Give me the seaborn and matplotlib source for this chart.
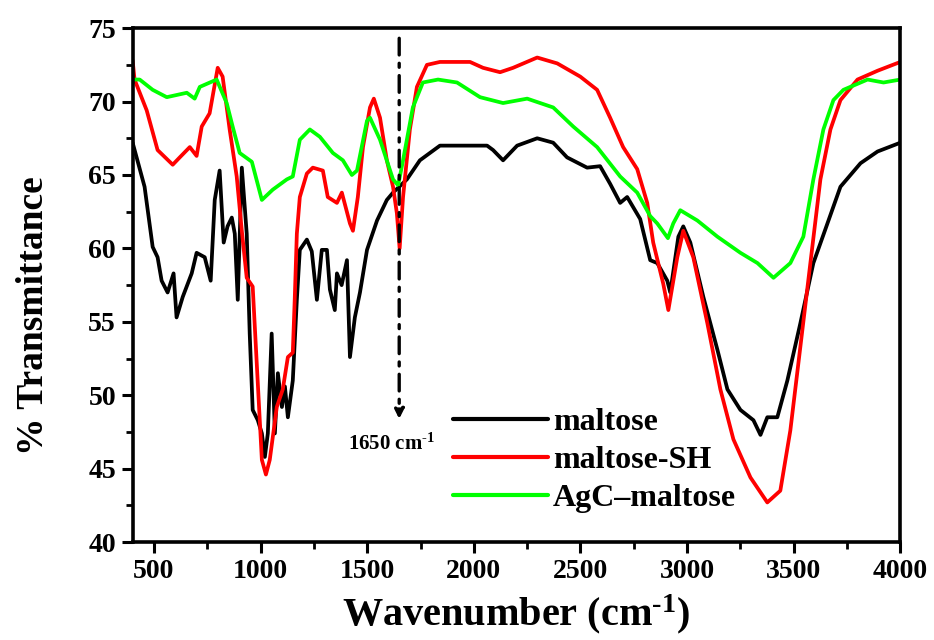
import numpy as np
import pandas as pd
import matplotlib
matplotlib.use("Agg")
import matplotlib.pyplot as plt
import seaborn as sns
from matplotlib.ticker import MultipleLocator

# ---- data ----
maltose_x = [400, 456, 494, 517, 536, 564, 592, 606, 635, 677, 700, 738, 766, 785, 808, 827, 845,
             865, 879, 893, 912, 935, 949, 963, 987, 1006, 1020, 1034, 1052, 1067, 1081, 1100, 1114,
             1128, 1151, 1170, 1184, 1217, 1240, 1264, 1287, 1311, 1325, 1348, 1358, 1380, 1405, 1419,
             1442, 1466, 1499, 1546, 1592, 1621, 1686, 1747, 1841, 2062, 2090, 2137, 2203, 2297, 2372,
             2437, 2531, 2592, 2639, 2686, 2719, 2780, 2827, 2860, 2907, 2921, 2959, 2982, 3015, 3076,
             3142, 3189, 3250, 3311, 3344, 3376, 3423, 3470, 3531, 3592, 3658, 3719, 3813, 3893, 4000]
maltose_y = [67.2, 64.2, 60.1, 59.4, 57.8, 57.0, 58.3, 55.3, 56.7, 58.3, 59.7, 59.4, 57.8, 63.3,
             65.3, 60.4, 61.5, 62.1, 61.0, 56.5, 65.5, 61.0, 54.2, 49.0, 48.3, 47.4, 45.8, 47.4, 54.2,
             47.4, 51.5, 49.2, 50.6, 48.5, 51.0, 56.5, 59.9, 60.6, 59.8, 56.5, 59.9, 59.9, 57.2, 55.8,
             58.3, 57.5, 59.2, 52.6, 55.3, 57.0, 59.9, 61.9, 63.3, 63.8, 64.7, 66.0, 67.0, 67.0, 66.7,
             66.0, 67.0, 67.5, 67.2, 66.2, 65.5, 65.6, 64.4, 63.1, 63.5, 62.0, 59.2, 59.0, 57.8, 57.0,
             60.8, 61.5, 60.4, 56.7, 53.1, 50.4, 49.0, 48.3, 47.3, 48.5, 48.5, 51.0, 54.9, 59.0, 61.7,
             64.2, 65.8, 66.6, 67.2]

sh_x = [400, 409, 466, 517, 588, 621, 668, 700, 724, 761, 799, 822, 855, 888, 912, 935, 963, 987,
        1006, 1025, 1043, 1076, 1104, 1128, 1151, 1160, 1170, 1184, 1217, 1245, 1292, 1315, 1358,
        1381, 1419, 1433, 1456, 1480, 1513, 1531, 1560, 1592, 1621, 1639, 1652, 1668, 1700, 1733,
        1780, 1841, 1982, 2043, 2123, 2184, 2297, 2391, 2499, 2578, 2639, 2700, 2766, 2813, 2841,
        2888, 2912, 2954, 2982, 3029, 3095, 3156, 3217, 3297, 3376, 3437, 3484, 3531, 3578, 3625,
        3672, 3719, 3799, 3893, 4000]
sh_y = [72.8, 71.5, 69.4, 66.7, 65.7, 66.2, 66.9, 66.3, 68.3, 69.2, 72.3, 71.7, 68.1, 64.9, 61.2,
        58.0, 57.4, 50.8, 45.6, 44.6, 45.6, 49.2, 50.4, 52.6, 52.9, 56.5, 61.0, 63.5, 65.1, 65.5,
        65.3, 63.5, 63.1, 63.8, 61.7, 61.2, 63.5, 66.9, 69.6, 70.2, 68.9, 66.0, 64.2, 62.4, 60.0,
        63.5, 68.1, 71.0, 72.5, 72.7, 72.7, 72.3, 72.0, 72.3, 73.0, 72.6, 71.7, 70.8, 68.9, 66.9,
        65.4, 63.1, 60.4, 57.6, 55.8, 59.4, 61.2, 59.4, 54.9, 50.4, 47.0, 44.4, 42.7, 43.5, 47.6,
        53.3, 59.0, 64.7, 68.1, 70.1, 71.5, 72.1, 72.7]

agc_x = [400, 433, 494, 560, 654, 691, 715, 794, 841, 869, 902, 959, 1006, 1057, 1123, 1151, 1184,
         1231, 1278, 1339, 1386, 1428, 1452, 1499, 1513, 1560, 1621, 1645, 1668, 1714, 1761, 1832,
         1921, 2029, 2137, 2250, 2372, 2466, 2578, 2686, 2766, 2827, 2860, 2910, 2935, 2968, 3048,
         3142, 3250, 3330, 3405, 3484, 3545, 3592, 3639, 3686, 3733, 3846, 3921, 4000]
agc_y = [71.5, 71.5, 70.8, 70.3, 70.6, 70.2, 71.0, 71.5, 69.9, 68.3, 66.5, 65.9, 63.3, 64.0, 64.7,
         64.9, 67.4, 68.1, 67.6, 66.5, 66.0, 65.0, 65.3, 68.7, 68.9, 67.4, 64.7, 64.3, 66.0, 69.6,
         71.3, 71.5, 71.3, 70.3, 69.9, 70.2, 69.6, 68.3, 66.9, 64.9, 63.8, 62.2, 61.7, 60.7, 61.7,
         62.6, 61.9, 60.8, 59.7, 59.0, 58.0, 59.0, 60.8, 64.7, 68.1, 70.1, 70.8, 71.5, 71.3, 71.5]

labels = ["maltose", "maltose-SH", "AgC\u2013maltose"]
colors = ["#000000", "#ff0000", "#00ff00"]
x_ticks = [500, 1000, 1500, 2000, 2500, 3000, 3500, 4000]
y_ticks = [40, 45, 50, 55, 60, 65, 70, 75]
peak_x = 1650
peak_label = r"1650 cm$^{\text{-1}}$"

df = pd.concat([
    pd.DataFrame({"x": maltose_x, "y": maltose_y, "s": labels[0]}),
    pd.DataFrame({"x": sh_x, "y": sh_y, "s": labels[1]}),
    pd.DataFrame({"x": agc_x, "y": agc_y, "s": labels[2]}),
], ignore_index=True)

sns.set_style("ticks")
plt.rcParams["font.family"] = ["Liberation Serif", "DejaVu Serif"]
plt.rcParams["font.weight"] = "bold"
plt.rcParams["text.color"] = "black"
plt.rcParams["axes.labelcolor"] = "black"
plt.rcParams["axes.edgecolor"] = "black"
plt.rcParams["xtick.color"] = "black"
plt.rcParams["ytick.color"] = "black"
plt.rcParams["mathtext.fontset"] = "custom"
plt.rcParams["mathtext.rm"] = "Liberation Serif:bold"
plt.rcParams["mathtext.it"] = "Liberation Serif:bold"
plt.rcParams["mathtext.bf"] = "Liberation Serif:bold"
plt.rcParams["mathtext.default"] = "bf"

fig = plt.figure(figsize=(9.34, 6.4), dpi=100)
ax = fig.add_axes([0.142, 0.153, 0.822, 0.803])

sns.lineplot(data=df, x="x", y="y", hue="s", palette=dict(zip(labels, colors)),
             hue_order=labels, estimator=None, sort=False, linewidth=2.7, ax=ax)

ax.set_xlim(400, 4000)
ax.set_ylim(40, 75)
ax.set_xticks(x_ticks)
ax.set_yticks(y_ticks)
ax.xaxis.set_minor_locator(MultipleLocator(250))
ax.yaxis.set_minor_locator(MultipleLocator(2.5))
ax.tick_params(axis="both", which="major", direction="out", length=8, width=2.2,
               labelsize=20, pad=4, colors="black")
ax.tick_params(axis="both", which="minor", direction="out", length=5, width=2.0, colors="black")
for lab in ax.get_xticklabels() + ax.get_yticklabels():
    lab.set_fontweight("bold")
for sp in ax.spines.values():
    sp.set_linewidth(2.6)
    sp.set_color("black")
    sp.set_visible(True)

ax.set_xlabel(r"Wavenumber (cm$^{\text{-1}}$)", fontsize=29, fontweight="bold", labelpad=6,
              color="black")
ax.set_ylabel("% Transmittance", fontsize=27, fontweight="bold", color="black")
ax.yaxis.set_label_coords(-0.106, 0.44)

# annotation for 1650 cm-1
ax.annotate("", xy=(peak_x, 48.2), xytext=(peak_x, 74.5),
            arrowprops=dict(arrowstyle="-|>", color="black", lw=2.4,
                            linestyle=(0, (5, 2.5, 1.2, 2.5)), mutation_scale=14))
ax.text(1616, 46.7, peak_label, ha="center", va="center", fontsize=15, fontweight="bold",
        color="black")

leg = ax.legend(loc="upper left", bbox_to_anchor=(0.417, 0.262), frameon=False,
                fontsize=23, handlelength=2.97, handletextpad=0.16, labelspacing=0.27,
                borderaxespad=0, borderpad=0)
for t in leg.get_texts():
    t.set_fontweight("bold")
    t.set_color("black")
for h in leg.get_lines():
    h.set_linewidth(3)

fig.savefig("out.png", dpi=100)
